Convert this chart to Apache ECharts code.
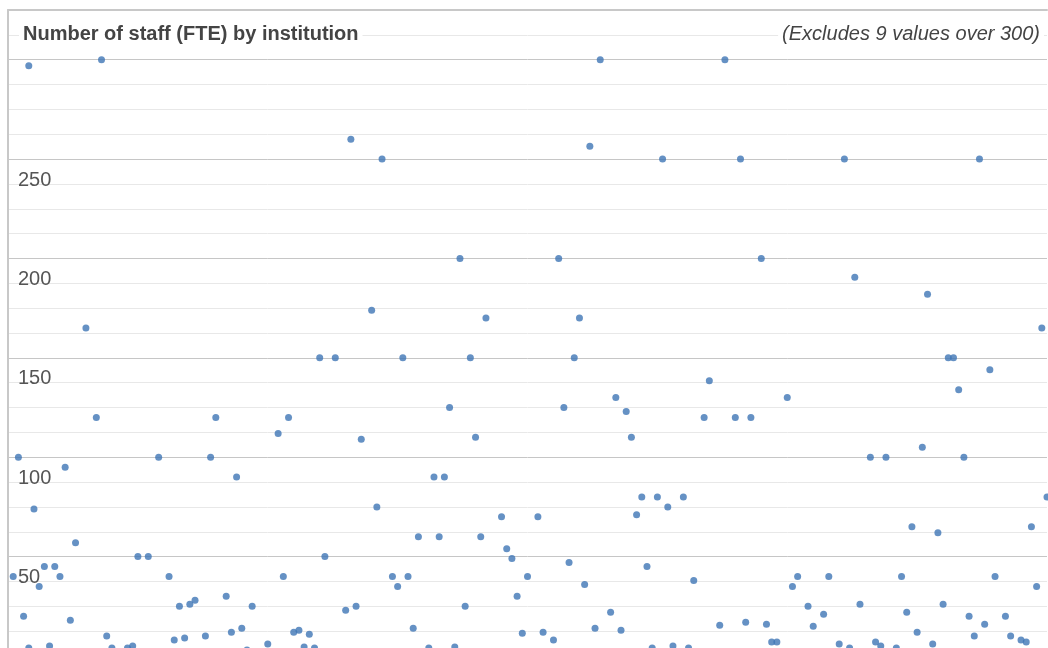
<!DOCTYPE html>
<html lang="en">
<head>
    <meta charset="utf-8"/>
    <title>Number of staff (FTE) by institution</title>
    <style>
        html, body { margin: 0; padding: 0; background: #fff; overflow: hidden; }
        /* chart runs a little below the window, like the cropped original */
        #chart { width: 1048px; height: 656px; }
    </style>
</head>
<body>
<div id="chart"></div>

<script type="text/javascript" src="https://cdn.jsdelivr.net/npm/echarts@6/dist/echarts.min.js"></script>
<script type="text/javascript">
    var chartTitle = "Number of staff (FTE) by institution";
    var chartNote = "(Excludes 9 values over 300)";

    // institution position along the x axis
    var institution = [
        1, 2, 3, 4, 4, 5, 6, 7, 8, 9,
        10, 11, 12, 13, 15, 17, 18, 19, 20, 23,
        24, 25, 27, 29, 31, 32, 33, 34, 35, 36,
        38, 39, 40, 42, 43, 44, 45, 46, 47, 50,
        52, 53, 54, 55, 56, 57, 58, 59, 60, 61,
        63, 65, 66, 67, 68, 70, 71, 72, 74, 75,
        76, 77, 78, 79, 81, 82, 83, 84, 85, 86,
        87, 88, 89, 90, 91, 92, 95, 96, 97, 98,
        99, 100, 102, 103, 105, 106, 107, 108, 109, 110,
        111, 112, 113, 114, 116, 117, 118, 119, 120, 121,
        122, 123, 124, 125, 126, 127, 128, 130, 131, 132,
        134, 135, 137, 138, 140, 141, 142, 143, 145, 146,
        147, 148, 150, 151, 152, 154, 155, 157, 158, 160,
        161, 162, 163, 164, 166, 167, 168, 169, 171, 172,
        173, 174, 175, 176, 177, 178, 179, 180, 181, 182,
        183, 184, 185, 186, 187, 188, 189, 190, 192, 193,
        195, 196, 197, 198, 199, 200
    ];

    // staff (FTE)
    var staffFTE = [
        40, 100, 20, 297, 4, 74, 35, 45, 5, 45,
        40, 95, 18, 57, 165, 120, 300, 10, 4, 4,
        5, 50, 50, 100, 40, 8, 25, 9, 26, 28,
        10, 100, 120, 30, 12, 90, 14, 3, 25, 6,
        112, 40, 120, 12, 13, 4.5, 11, 4, 150, 50,
        150, 23, 260, 25, 109, 174, 75, 250, 40, 35,
        150, 40, 14, 60, 4, 90, 60, 90, 125, 4.5,
        200, 25, 150, 110, 60, 170, 70, 54, 49, 30,
        11.5, 40, 70, 12, 8, 200, 125, 47, 150, 170,
        36, 256.5, 14, 300, 22, 130, 13, 123, 110, 71,
        80, 45, 4, 80, 250, 75, 5, 80, 4, 38,
        120, 138.5, 15.5, 300, 120, 250, 17, 120, 200, 16,
        7, 7, 130, 35, 40, 25, 15, 21, 40, 6,
        250, 4, 190.5, 26, 100, 7, 5, 100, 4, 40,
        22, 65, 12, 105, 182, 6, 62, 26, 150, 150,
        134, 100, 20, 10, 250, 16, 144, 40, 20, 10,
        8, 7, 65, 35, 165, 80
    ];

    var yTickLabels = [50, 100, 150, 200, 250];

    var chart = echarts.init(document.getElementById('chart'));

    var points = institution.map(function (x, i) {
        return [x, staffFTE[i]];
    });

    chart.setOption({
        animation: false,
        title: [
            {
                text: chartTitle,
                left: 19,
                top: 22,
                padding: [2, 4],
                backgroundColor: '#fff',
                textStyle: {
                    fontFamily: 'Liberation Sans, Arial, sans-serif',
                    fontSize: 20,
                    fontWeight: 'bold',
                    color: '#444'
                }
            },
            {
                text: chartNote,
                right: 4,
                top: 22,
                padding: [2, 4],
                backgroundColor: '#fff',
                textStyle: {
                    fontFamily: 'Liberation Sans, Arial, sans-serif',
                    fontSize: 20,
                    fontWeight: 'normal',
                    fontStyle: 'italic',
                    color: '#444'
                }
            }
        ],
        grid: {
            left: 8,
            right: 1,
            top: 10,
            bottom: 0
        },
        xAxis: {
            type: 'value',
            position: 'top',
            min: 0,
            max: 200,
            axisLine: {show: true, onZero: false, lineStyle: {color: '#c8c8c8', width: 2}},
            axisTick: {show: false},
            axisLabel: {show: false},
            splitLine: {show: false}
        },
        yAxis: {
            type: 'value',
            min: 0,
            max: 325,
            interval: 12.5,
            axisLine: {show: true, lineStyle: {color: '#c8c8c8', width: 2}},
            axisTick: {show: false},
            axisLabel: {
                inside: true,
                margin: 10,
                verticalAlign: 'top',
                padding: [11, 0, 0, 0],
                fontFamily: 'Liberation Sans, Arial, sans-serif',
                fontSize: 20,
                color: '#555',
                formatter: function (v) {
                    return yTickLabels.indexOf(v) >= 0 ? String(v) : '';
                }
            },
            splitLine: {
                show: true,
                // every fourth line (multiples of 50) is darker
                lineStyle: {color: ['#c6c6c6', '#e8e8e8', '#e8e8e8', '#e8e8e8'], width: 1}
            }
        },
        series: [
            {
                name: 'Staff (FTE)',
                type: 'scatter',
                data: points,
                symbolSize: 7,
                clip: false,
                itemStyle: {color: '#3f76b5'}
            }
        ]
    });
</script>
</body>
</html>
